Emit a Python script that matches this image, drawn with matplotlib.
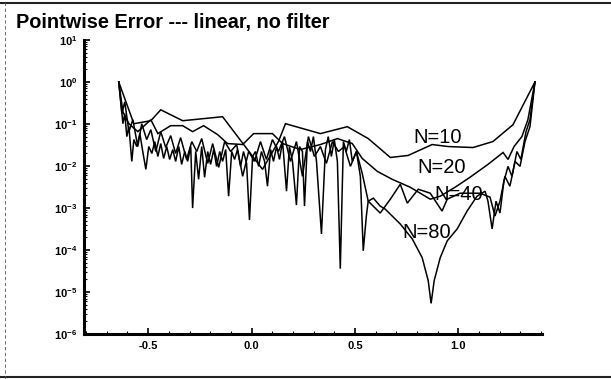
import matplotlib
matplotlib.use("Agg")
import matplotlib.pyplot as plt
from matplotlib.ticker import FixedLocator, MultipleLocator, LogLocator, NullFormatter
from matplotlib.lines import Line2D
import numpy as np

plt.rcParams['font.family'] = ['Liberation Sans', 'DejaVu Sans']
plt.rcParams['mathtext.fontset'] = 'custom'
plt.rcParams['mathtext.rm'] = 'Liberation Sans:bold'
plt.rcParams['mathtext.bf'] = 'Liberation Sans:bold'

title = "Pointwise Error --- linear, no filter"

# ---- data: x positions and log10 of pointwise error ----
x_n10 = [-0.642, -0.569, -0.487, -0.439, -0.333, -0.140, 0.053, 0.130, 0.164, 0.333,
         0.463, 0.564, 0.671, 0.757, 0.873, 0.950, 1.071, 1.167, 1.264, 1.370]
le_n10 = [0.0, -0.993, -0.922, -0.662, -0.922, -0.827, -2.080, -1.418, -0.993, -1.229,
          -1.064, -1.347, -1.797, -1.749, -1.489, -1.537, -1.560, -1.418, -1.017, 0.0]

x_n20 = [-0.642, -0.622, -0.593, -0.550, -0.487, -0.453, -0.391, -0.333, -0.285, -0.232,
         -0.164, -0.116, -0.043, 0.010, 0.101, 0.150, 0.236, 0.333, 0.415, 0.487,
         0.535, 0.608, 0.680, 0.767, 0.864, 0.912, 0.984, 1.056, 1.143, 1.216,
         1.240, 1.269, 1.307, 1.336, 1.370]
le_n20 = [0.0, -0.709, -0.993, -1.182, -0.898, -1.229, -1.040, -1.040, -1.182, -1.040,
          -1.253, -1.466, -1.489, -1.229, -1.229, -1.466, -1.608, -1.489, -1.347, -1.466,
          -1.820, -2.128, -2.317, -2.506, -2.790, -2.719, -2.506, -2.269, -1.962, -1.678,
          -1.844, -1.537, -1.300, -0.898, 0.0]

x_n40 = [-0.642, -0.627, -0.613, -0.593, -0.574, -0.550, -0.531, -0.507, -0.487, -0.463,
         -0.439, -0.415, -0.391, -0.367, -0.343, -0.314, -0.289, -0.265, -0.241, -0.212,
         -0.188, -0.159, -0.130, -0.101, -0.072, -0.043, -0.014, 0.014, 0.043, 0.072,
         0.101, 0.130, 0.159, 0.188, 0.217, 0.246, 0.275, 0.304, 0.333, 0.362,
         0.391, 0.420, 0.449, 0.478, 0.507, 0.535, 0.564, 0.622, 0.671, 0.719,
         0.753, 0.806, 0.864, 0.921, 0.946, 1.008, 1.105, 1.153, 1.177, 1.201,
         1.225, 1.249, 1.274, 1.298, 1.322, 1.346, 1.370]
le_n40 = [0.0, -0.756, -0.473, -1.182, -0.898, -1.537, -0.993, -1.371, -1.135, -1.655,
          -1.182, -1.560, -1.277, -1.702, -1.324, -1.844, -1.418, -1.655, -1.347, -1.938,
          -1.466, -2.033, -1.418, -1.655, -1.489, -2.246, -1.655, -1.891, -1.418, -1.844,
          -1.371, -1.655, -1.300, -1.891, -1.418, -2.246, -1.300, -1.773, -1.537, -1.938,
          -1.418, -1.655, -1.537, -2.009, -1.655, -2.175, -2.837, -3.120, -2.790, -2.435,
          -2.884, -2.553, -2.648, -3.073, -2.790, -2.648, -2.648, -2.742, -3.191, -2.837,
          -2.246, -2.482, -1.891, -2.009, -1.418, -1.064, 0.0]

x_n80 = [-0.642, -0.632, -0.622, -0.613, -0.603, -0.593, -0.579, -0.569, -0.555, -0.540,
         -0.526, -0.511, -0.497, -0.482, -0.468, -0.453, -0.439, -0.425, -0.410, -0.396,
         -0.381, -0.367, -0.352, -0.338, -0.323, -0.309, -0.294, -0.285, -0.270, -0.256,
         -0.241, -0.227, -0.212, -0.198, -0.183, -0.169, -0.154, -0.140, -0.125, -0.111,
         -0.096, -0.082, -0.068, -0.053, -0.039, -0.024, -0.010, 0.005, 0.019, 0.034,
         0.048, 0.063, 0.077, 0.092, 0.106, 0.121, 0.135, 0.150, 0.169, 0.183,
         0.198, 0.217, 0.232, 0.246, 0.256, 0.270, 0.285, 0.299, 0.314, 0.338,
         0.357, 0.371, 0.386, 0.400, 0.415, 0.429, 0.444, 0.458, 0.473, 0.487,
         0.507, 0.526, 0.540, 0.555, 0.564, 0.589, 0.622, 0.646, 0.719, 0.777,
         0.825, 0.854, 0.868, 0.883, 0.912, 0.946, 0.994, 1.042, 1.090, 1.129,
         1.143, 1.163, 1.182, 1.201, 1.220, 1.240, 1.259, 1.283, 1.302, 1.327,
         1.346, 1.370]
le_n80 = [0.0, -0.473, -0.993, -0.756, -1.300, -1.064, -1.891, -1.371, -1.537, -1.229,
          -1.655, -2.080, -1.537, -1.702, -1.418, -1.773, -1.466, -1.820, -1.537, -1.844,
          -1.608, -1.891, -1.537, -1.962, -1.655, -1.891, -1.537, -3.002, -1.655, -2.317,
          -1.537, -2.269, -1.655, -1.962, -1.608, -2.009, -1.655, -1.891, -1.608, -2.719,
          -1.655, -1.844, -1.608, -2.009, -1.655, -1.938, -3.286, -1.773, -1.655, -2.009,
          -1.655, -1.891, -2.482, -1.608, -1.891, -1.537, -1.844, -1.418, -2.600, -1.537,
          -1.891, -2.931, -1.537, -1.655, -2.955, -1.418, -1.655, -1.300, -1.891, -3.617,
          -1.608, -1.300, -1.773, -1.371, -1.891, -4.444, -1.418, -1.655, -1.371, -1.891,
          -1.655, -2.246, -4.019, -3.191, -2.837, -2.766, -2.955, -3.026, -3.381, -3.735,
          -4.184, -4.728, -5.272, -4.728, -4.184, -3.782, -3.499, -3.073, -2.719, -2.600,
          -2.837, -3.499, -2.837, -3.120, -2.364, -2.009, -2.246, -1.655, -1.844, -1.182,
          -0.898, 0.0]

series = [("N=10", x_n10, le_n10), ("N=20", x_n20, le_n20),
          ("N=40", x_n40, le_n40), ("N=80", x_n80, le_n80)]

label_names = ["N=10", "N=20", "N=40", "N=80"]
label_x = [0.902, 0.921, 1.003, 0.849]
label_y = [4.74e-2, 9.27e-3, 2.13e-3, 2.55e-4]

x_ticks = [-0.5, 0.0, 0.5, 1.0]
x_ticklabels = ["-0.5", "0.0", "0.5", "1.0"]
y_exps = [1, 0, -1, -2, -3, -4, -5, -6]

# ---- figure ----
fig = plt.figure(figsize=(6.11, 3.79), dpi=100)
ax = fig.add_axes([0.1375, 0.1187, 0.7495, 0.7758])

for name, xs, les in series:
    ax.plot(xs, 10.0 ** np.array(les), color='black', lw=1.1, solid_joinstyle='miter')

for name, lx, ly in zip(label_names, label_x, label_y):
    ax.text(lx, ly, name, fontsize=14.5, ha='center', va='center', color='black',
            family='Liberation Sans')

ax.set_yscale('log')
ax.set_ylim(1e-6, 10)
ax.set_xlim(-0.81, 1.404)

ax.spines['top'].set_visible(False)
ax.spines['right'].set_visible(False)
ax.spines['left'].set_linewidth(2.2)
ax.spines['bottom'].set_linewidth(2.2)

ax.xaxis.set_major_locator(FixedLocator(x_ticks))
ax.xaxis.set_minor_locator(MultipleLocator(0.1))
ax.set_xticklabels(x_ticklabels)
ax.yaxis.set_major_locator(FixedLocator([10.0 ** e for e in y_exps]))
ax.set_yticklabels([r'$10^{%d}$' % e for e in y_exps])
ax.yaxis.set_minor_locator(LogLocator(base=10, subs=np.arange(2, 10) * 1.0, numticks=20))
ax.yaxis.set_minor_formatter(NullFormatter())

ax.tick_params(axis='both', which='major', direction='in', length=4, width=1.2,
               labelsize=8, pad=5)
ax.tick_params(axis='both', which='minor', direction='in', length=2, width=0.8)
for lab in ax.get_xticklabels():
    lab.set_fontweight('bold')

fig.text(0.026, 0.926, title, fontsize=14.3, fontweight='bold', ha='left', va='baseline',
         family='Liberation Sans')

# outer scan frame
fig.add_artist(Line2D([0.0, 1.0], [0.992, 0.992], transform=fig.transFigure, color='#222222', lw=1.5))
fig.add_artist(Line2D([0.0, 1.0], [0.005, 0.005], transform=fig.transFigure, color='#222222', lw=1.5))
fig.add_artist(Line2D([0.008, 0.008], [0.0, 1.0], transform=fig.transFigure, color='#555555',
                      lw=0.6, ls=(0, (4, 3))))

fig.savefig("out.png", dpi=100)
